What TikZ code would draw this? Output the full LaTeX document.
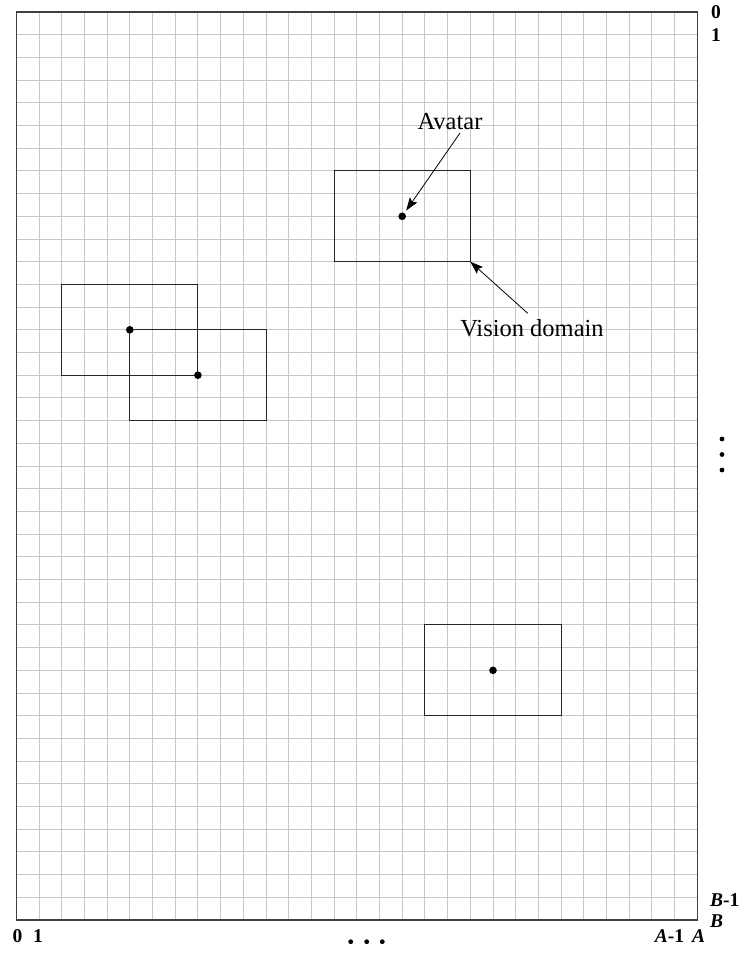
\documentclass[tikz,border=0pt]{standalone}
\usepackage{fontspec}
\setmainfont{Liberation Serif}
\usetikzlibrary{arrows.meta}
\tikzset{
  gridline/.style={draw=black!22, line width=0.9pt},
  border/.style={draw=black!75, line width=1.4pt},
  vbox/.style={draw=black!85, line width=1pt},
  avdot/.style={circle, fill=black, inner sep=0pt, minimum size=7.6pt},
  smalldot/.style={circle, fill=black, inner sep=0pt, minimum size=4.8pt},
  lbl/.style={font=\fontsize{24.5}{28}\selectfont, inner sep=0pt},
  num/.style={font=\fontsize{19.5}{22}\selectfont\bfseries, inner sep=0pt, text height=13.2pt, text depth=0pt},
  pointer/.style={draw=black, line width=0.8pt, -{Stealth[length=13pt, width=9pt, inset=2.5pt]}},
}
\begin{document}
\begin{tikzpicture}[x=1pt, y=-1pt]
\useasboundingbox (0,0) rectangle (748,953);
\fill[white] (0,0) rectangle (748,953);
\begin{scope}[shift={(16.3pt,-12pt)}, x=22.7pt, y=-22.7pt]
  \foreach \i in {1,...,29} \draw[gridline] (\i,0) -- (\i,40);
  \foreach \j in {1,...,39} \draw[gridline] (0,\j) -- (30,\j);
  \draw[border] (0,0) rectangle (30,40);
  % vision domain boxes
  \draw[vbox] (14,7) rectangle (20,11);
  \coordinate (corner1) at (20,11);
  \node[avdot] (d1) at (17,9) {};
  \draw[vbox] (2,12) rectangle (8,16);
  \node[avdot] (d2) at (8,16) {};
  \draw[vbox] (5,14) rectangle (11,18);
  \node[avdot] (d3) at (5,14) {};
  \draw[vbox] (18,27) rectangle (24,31);
  \node[avdot] (d4) at (21,29) {};
\end{scope}
% labels and pointers
\node[lbl] (avatar) at (450,122) {Avatar};
\coordinate (avtail) at (460,133);
\draw[pointer, shorten >=3pt] (avtail) -- (d1);
\node[lbl] (vision) at (532,328) {Vision domain};
\coordinate (vistail) at (527.7,313.3);
\draw[pointer] (vistail) -- (corner1);
% axis labels
\node[num, anchor=west] (r0) at (711,11.5) {0};
\node[num, anchor=west] (r1) at (711,35) {1};
\node[num, anchor=west] (rb1) at (710,900) {\textit{B}-1};
\node[num, anchor=west] (rb) at (710,920.5) {\textit{B}};
\node[num] (c0) at (17.5,936) {0};
\node[num] (c1) at (38,936) {1};
\node[num] (ca1) at (669.5,936) {\textit{A}-1};
\node[num] (ca) at (698.5,936) {\textit{A}};
% ellipses
\node[smalldot] (v1) at (722,439) {};
\node[smalldot] (v2) at (722,454.5) {};
\node[smalldot] (v3) at (722,470) {};
\node[smalldot] (h1) at (350.7,941.7) {};
\node[smalldot] (h2) at (366.7,941.7) {};
\node[smalldot] (h3) at (382.3,941.7) {};
\end{tikzpicture}
\end{document}
